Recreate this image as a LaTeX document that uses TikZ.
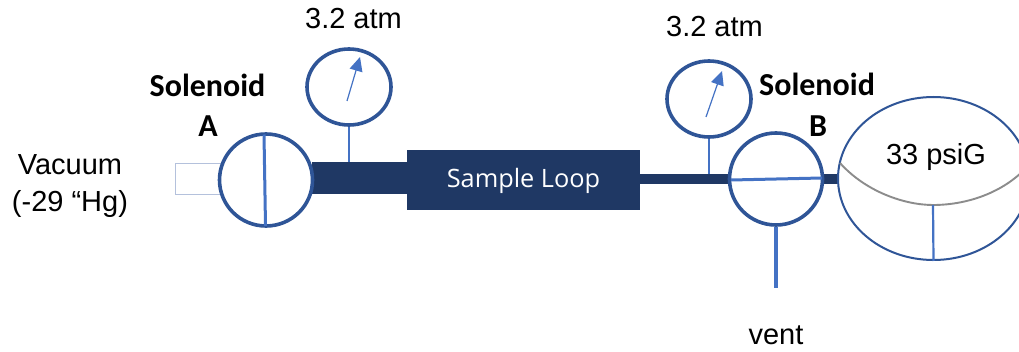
\documentclass[tikz,border=0pt]{standalone}
\usepackage{fontspec}
\setmainfont{Liberation Sans}
\newfontfamily\calib{Carlito}
\newfontfamily\opens{Open Sans}
\usetikzlibrary{arrows.meta,shapes.geometric}
\definecolor{navy}{HTML}{1F3864}
\definecolor{ring}{HTML}{2F5597}
\definecolor{stem}{HTML}{4472C4}
\definecolor{pale}{HTML}{B4C1DC}
\tikzset{
 x=1pt,y=-1pt,
 valve/.style={draw=ring,line width=3.6pt,fill=white,shape=ellipse,inner sep=0pt},
 lbl/.style={inner sep=0pt,font=\fontsize{29}{37}\selectfont,align=center,text=black},
 sol/.style={inner sep=0pt,font=\calib\bfseries\fontsize{32}{38}\selectfont,text=black},
 pipe/.style={fill=navy,draw=none},
 thin stem/.style={draw=stem,line width=1.8pt},
 needle/.style={draw=stem,line width=1.2pt,-{Triangle[width=13pt,length=14pt]}},
}
\begin{document}
\begin{tikzpicture}
\useasboundingbox (0,0) rectangle (1019,352);
\clip (0,0) rectangle (1019,352);
% vacuum box
\node[draw=pale,line width=.9pt,minimum width=46pt,minimum height=31pt,inner sep=0pt] (vac) at (198,178.5) {};
% pipes
\fill[pipe] (312,162) rectangle (408,194.5);
\fill[pipe] (640,174) rectangle (730,184);
\fill[pipe] (820,174) rectangle (842,184);
\node[fill=navy,minimum width=233pt,minimum height=60pt,inner sep=0pt,text=white,font=\opens\fontsize{25.3}{30}\selectfont] (loop) at (523.5,180.5) {Sample Loop};
% gauges
\node[valve,minimum width=84pt,minimum height=76pt] (gaugeA) at (349,87) {};
\node[valve,minimum width=84pt,minimum height=76pt] (gaugeB) at (709,99) {};
\coordinate (pipeA) at (349,162);
\coordinate (pipeB) at (709,174);
\draw[thin stem] (gaugeA.south) -- (pipeA);
\draw[thin stem] (gaugeB.south) -- (pipeB);
\coordinate (needleA0) at (347,101);
\coordinate (needleA1) at (360,57);
\coordinate (needleB0) at (706,117);
\coordinate (needleB1) at (722,71);
\draw[needle] (needleA0) -- (needleA1);
\draw[needle] (needleB0) -- (needleB1);
% valves
\node[valve,minimum width=93pt,minimum height=92pt] (valveA) at (266,180) {};
\node[valve,minimum width=93pt,minimum height=92pt] (valveB) at (776,179) {};
\draw[draw=stem,line width=3pt] (264,134.5) -- (265.5,226);
\draw[draw=stem,line width=3pt] (731,180) -- (822,178);
\coordinate (ventEnd) at (776,288);
\draw[draw=stem,line width=4pt] (valveB.south) -- (ventEnd);
% tank
\node[draw=ring,line width=2pt,fill=white,shape=ellipse,inner sep=0pt,minimum width=191pt,minimum height=163pt] (tank) at (933.5,178.5) {};
\draw[draw=black!45,line width=1.9pt] (840,163) .. controls (866,192) and (905,205) .. (933,205) .. controls (965,205) and (1000,194) .. (1024,170);
\coordinate (tankLevel) at (933,205);
\draw[draw=stem,line width=2.2pt] (tankLevel) -- (tank.south);
% labels
\node[lbl] (t1) at (353.5,19) {3.2 atm};
\node[lbl] (t2) at (714.5,27) {3.2 atm};
\node[lbl] (t3) at (936,157) {33 psiG};
\node[lbl] (t4) at (776,335) {vent};
\node[lbl] (t5) at (70,186) {Vacuum\\(-29 “Hg)};
\node[sol] (s1) at (207.5,85) {Solenoid};
\node[sol] (s2) at (208,126) {A};
\node[sol] (s3) at (817,84) {Solenoid};
\node[sol] (s4) at (818,126) {B};
\end{tikzpicture}
\end{document}
